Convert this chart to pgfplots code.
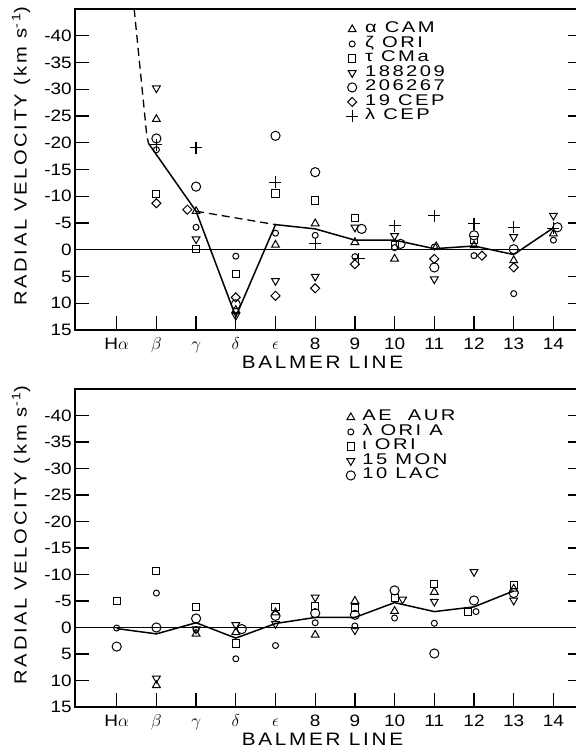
\documentclass[border=0pt]{standalone}
\usepackage{fontspec}
\setmainfont{Liberation Sans}[FakeStretch=1.15]
\newfontfamily\lblfont{Liberation Sans}[FakeStretch=1.15,LetterSpace=15]
\newfontfamily\lgfont{Liberation Sans}[FakeStretch=1.3,LetterSpace=16]
\usepackage{pgfplots}
\pgfplotsset{compat=1.18}
\pgfplotsset{
  legend image code/.code={\draw[mark repeat=2,mark phase=2,#1] plot coordinates {(0bp,0bp) (6bp,0bp) (12bp,0bp)};},
}
\pgfplotsset{
  panel/.style={
    scale only axis, width=507bp, height=#1, anchor=south west,
    xmin=-1.05, xmax=11.72, ymin=-45, ymax=15, y dir=reverse,
    xtick={0,...,11},
    xticklabels={H$\alpha$,$\beta$,$\gamma$,$\delta$,$\epsilon$,8,9,10,11,12,13,14},
    ytick={-40,-35,...,15},
    yticklabels={-40,-35,-30,-25,-20,-15,-10,-5,0,5,10,15},
    xtick pos=left, ytick pos=both, yticklabel pos=left,
    tick align=inside, major tick length=14bp,
    tick style={line width=1.3bp, black},
    axis line style={line width=1.6bp},
    ticklabel style={font=\fontsize{16.5bp}{16.5bp}\selectfont},
    yticklabel style={inner sep=0bp, xshift=-3bp},
    xticklabel style={inner sep=0bp, yshift=-7bp, text height=12bp, text depth=0bp},
    xlabel={BALMER LINE},
    ylabel={RADIAL VELOCITY (km s\textsuperscript{-1})},
    every axis x label/.style={at={(axis description cs:0.5,0)}, xshift=-6bp, yshift=-32bp, anchor=center, font=\lblfont\fontsize{18bp}{18bp}\selectfont},
    every axis y label/.style={at={(axis cs:-1.05,-17.5)}, xshift=-54bp, rotate=90, anchor=center, font=\lblfont\fontsize{17.5bp}{17.5bp}\selectfont},
    legend style={draw=none, fill=none, anchor=north west, inner sep=0bp, column sep=7bp, row sep=0bp,
      font=\lgfont\fontsize{15.5bp}{15.5bp}\selectfont, nodes={inner sep=0bp, text height=10.5bp, text depth=4bp}},
    legend cell align=left,
  },
  tri/.style={only marks, mark=triangle, mark size=4.5bp, mark options={solid, line width=1bp}},
  trid/.style={only marks, mark=triangle, mark size=4.5bp, mark options={solid, line width=1bp, rotate=180}},
  sq/.style={only marks, mark=square, mark size=3.6bp, mark options={solid, line width=1bp}},
  sc/.style={only marks, mark=o, mark size=3bp, mark options={solid, line width=1bp}},
  bc/.style={only marks, mark=o, mark size=4.6bp, mark options={solid, line width=1bp}},
  dm/.style={only marks, mark=square, mark size=3.2bp, mark options={solid, line width=1bp, rotate=45}},
  pl/.style={only marks, mark=+, mark size=6bp, mark options={solid, line width=1.2bp}},
}
\begin{document}
\begin{tikzpicture}
\useasboundingbox (0,0) rectangle (576bp,-753bp);
% ---------------- top panel
\begin{axis}[panel=321bp, at={(75bp,-330bp)},
  legend style={at={(axis description cs:0.5345,0.9595)}}]
\addplot[forget plot, line width=1.2bp] coordinates {(-1.05,0) (11.72,0)};
\addplot[forget plot, line width=1.5bp] coordinates {(0.80,-19.9) (2,-7.2) (3,12.5) (4,-4.7) (5,-3.9) (6,-1.8) (7,-1.8) (8,-0.2) (9,-0.7) (10,0.9) (11,-4.1)};
\addplot[forget plot, line width=1.3bp, dash pattern=on 8bp off 5bp] coordinates {(0.44,-45) (0.755,-21.6) (0.80,-19.9)};
\addplot[forget plot, line width=1.3bp, dash pattern=on 8bp off 5bp] coordinates {(2,-7.2) (4,-4.7)};
% alpha CAM
\addplot[tri] coordinates {(1,-24.4) (2,-7.2) (3,11.3) (4,-0.9) (5,-4.9) (6,-1.4) (7,1.7) (8.05,-0.6) (9,-0.8) (10,2.0) (11,-3.0)};
\addlegendentry{α CAM}
% zeta ORI
\addplot[sc] coordinates {(1,-18.7) (2,-4.2) (3,1.2) (4,-3.1) (5,-2.7) (6,1.3) (7,-0.4) (8,-0.5) (9,1.1) (10,8.2) (11,-1.8)};
\addlegendentry{ζ ORI}
% tau CMa
\addplot[sq] coordinates {(1,-10.4) (2,-0.1) (3,4.5) (4,-10.5) (5,-9.2) (6,-6.0) (7,-0.8) (9,-1.8)};
\addlegendentry{τ CMa}
% 188209
\addplot[trid] coordinates {(1,-30.2) (2,-2.0) (3,12.3) (4,5.8) (5,5.0) (6,-4.2) (7,-2.6) (8,5.5) (10,-2.4) (11,-6.4)};
\addlegendentry{188209}
% 206267
\addplot[bc] coordinates {(1,-20.8) (2,-11.8) (3,10.2) (4,-21.3) (5,-14.5) (6.17,-3.9) (7.15,-1.1) (8,3.3) (9,-2.7) (10,-0.1) (11.1,-4.2)};
\addlegendentry{206267}
% 19 CEP
\addplot[dm] coordinates {(1,-8.7) (1.78,-7.5) (3,8.9) (4,8.6) (5,7.2) (6,2.7) (8,1.7) (9.2,1.1) (10,3.3)};
\addlegendentry{19 CEP}
% lambda CEP
\addplot[pl] coordinates {(1,-19.6) (2,-19.1) (4,-12.6) (5,-1.1) (6.1,1.7) (7,-4.5) (8,-6.4) (9,-4.9) (10,-4.2) (11,-4.0)};
\addlegendentry{λ CEP}
\end{axis}
% ---------------- bottom panel
\begin{axis}[panel=318bp, at={(75bp,-707bp)},
  legend style={at={(axis description cs:0.5345,0.934)}}]
\addplot[forget plot, line width=1.2bp] coordinates {(-1.05,0) (11.72,0)};
\addplot[forget plot, line width=1.5bp] coordinates {(0,0.2) (1,1.2) (2,-0.9) (3,2.0) (4,-0.75) (5,-1.9) (6,-1.9) (7,-4.7) (8,-3.0) (9,-3.9) (10,-6.9)};
% AE AUR
\addplot[tri] coordinates {(1,10.9) (2,1.2) (3,0.9) (4,-2.8) (5,1.4) (6,-5.0) (7,-3.1) (8,-6.7) (10,-7.3)};
\addlegendentry{AE\ \ AUR}
% lambda ORI A
\addplot[sc] coordinates {(0,0.1) (1,-6.5) (2,0.4) (3,5.9) (4,3.4) (5,-0.9) (6,-0.3) (7,-1.8) (8,-0.8) (9.05,-3.0)};
\addlegendentry{λ ORI A}
% iota ORI
\addplot[sq] coordinates {(0,-5.0) (1,-10.7) (2,-3.9) (3,3.0) (4,-3.9) (5,-4.1) (6,-3.7) (7,-5.5) (8,-8.2) (8.85,-3.0) (10,-8.0)};
\addlegendentry{ι ORI}
% 15 MON
\addplot[trid] coordinates {(1,9.6) (2,0.3) (3,-0.5) (4,-0.7) (5,-5.7) (6,0.5) (7.2,-5.3) (8,-4.9) (9,-10.5) (10,-5.1)};
\addlegendentry{15 MON}
% 10 LAC
\addplot[bc] coordinates {(0,3.6) (1,0) (2,-1.7) (3.15,0.3) (4,-2.2) (5,-2.7) (6,-2.4) (7,-7.0) (8,4.9) (9,-5.1) (10,-6.5)};
\addlegendentry{10 LAC}
\end{axis}
\end{tikzpicture}
\end{document}
